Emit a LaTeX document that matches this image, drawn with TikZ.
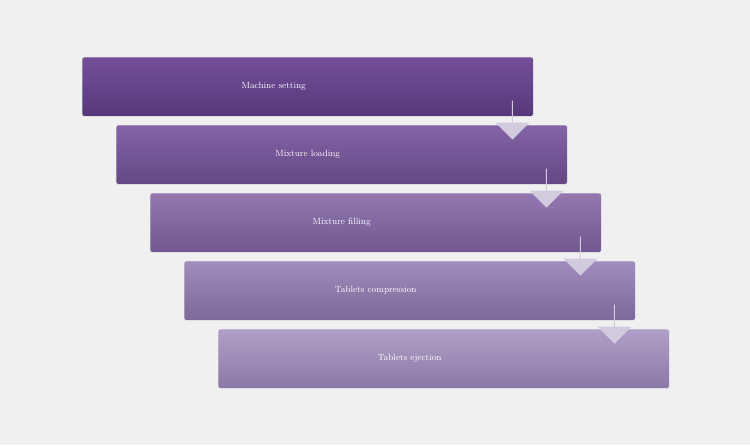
\documentclass[tikz,border=0pt]{standalone}
\usepackage{tikz}
\usetikzlibrary{shapes.arrows,positioning}
\definecolor{bg}{HTML}{F0F0F0}
\definecolor{arr}{HTML}{D2CADD}
\definecolor{topdark}{HTML}{74509A}
\definecolor{botdark}{HTML}{553879}
\definecolor{toplight}{HTML}{B19EC8}
\definecolor{botlight}{HTML}{8C78A5}
\tikzset{x=1pt, y=-1pt}
\tikzset{stepbox/.style={rectangle, rounded corners=2pt, minimum width=451pt, minimum height=59pt,
    draw=white!75!gray, line width=0.4pt, inner sep=0pt}}
\tikzset{label/.style={text=white, font=\small}}
\tikzset{down/.style={single arrow, fill=arr, draw=none, rotate=-90, minimum height=39pt,
    minimum width=34pt, single arrow head extend=6pt, single arrow tip angle=90, inner sep=0pt}}
\begin{document}
\begin{tikzpicture}
  \fill[bg] (0,0) rectangle (750,445);
  \useasboundingbox (0,0) rectangle (750,445);
  % boxes, lighter going down
  \foreach \i/\t/\m in {1/Machine setting/100,2/Mixture loading/75,3/Mixture filling/50,
                          4/Tablets compression/25,5/Tablets ejection/0}{
    \colorlet{tc}{topdark!\m!toplight}
    \colorlet{bc}{botdark!\m!botlight}
    \node (b\i) [stepbox, top color=tc, bottom color=bc, anchor=north west]
        at ({82+34*(\i-1)}, {57+68*(\i-1)}) {};
    \node (t\i) [label] at ([xshift=-34pt]b\i.center) {\t};
  }
  % arrows between boxes
  \foreach \i in {1,...,4}{
    \node (a\i) [down, anchor=tail] at ([xshift=-21pt, yshift=16pt]b\i.south east) {};
  }
\end{tikzpicture}
\end{document}
